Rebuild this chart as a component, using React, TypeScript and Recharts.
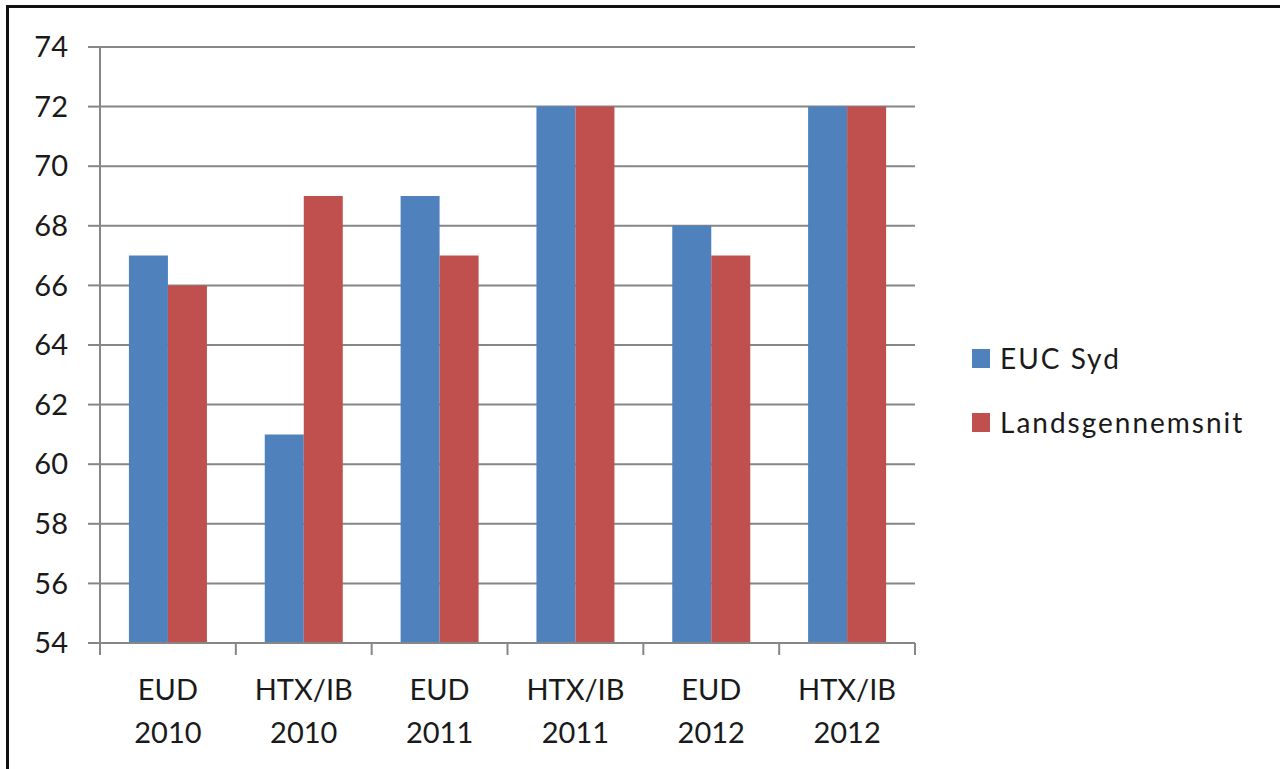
import { BarChart, Bar, XAxis, YAxis, CartesianGrid } from 'recharts';

const categories = ['EUD 2010', 'HTX/IB 2010', 'EUD 2011', 'HTX/IB 2011', 'EUD 2012', 'HTX/IB 2012'];
const eucSyd = [67, 61, 69, 72, 68, 72];
const landsgennemsnit = [66, 69, 67, 72, 67, 72];
const yTicks = [54, 56, 58, 60, 62, 64, 66, 68, 70, 72, 74];

const seriesNames = ['EUC Syd', 'Landsgennemsnit'];
const colors = ['#4F81BD', '#C0504D'];

const data = categories.map((name, i) => ({
  name,
  eucSyd: eucSyd[i],
  lands: landsgennemsnit[i],
}));

const FONT = 'Lato, "Open Sans", sans-serif';
const AXIS = '#868686';
const TEXT = '#1a1a1a';

function CategoryTick(props: any) {
  const { x, y, payload, index, visibleTicksCount } = props;
  const half = payload.offset ?? 68;
  const [top, bottom] = String(payload.value).split(' ');
  return (
    <g>
      <line x1={x - half} x2={x - half} y1={y - 8} y2={y + 4} stroke={AXIS} strokeWidth={2} />
      {index === visibleTicksCount - 1 && (
        <line x1={x + half} x2={x + half} y1={y - 8} y2={y + 4} stroke={AXIS} strokeWidth={2} />
      )}
      <text x={x} y={y + 49} textAnchor="middle" fill={TEXT} fontSize={29} fontFamily={FONT}>
        {top}
      </text>
      <text x={x} y={y + 92} textAnchor="middle" fill={TEXT} fontSize={29} fontFamily={FONT}>
        {bottom}
      </text>
    </g>
  );
}

function LegendBox() {
  return (
    <div
      style={{
        position: 'absolute',
        left: 972,
        top: 326,
        fontFamily: FONT,
        fontSize: 28,
        letterSpacing: 2,
        color: TEXT,
      }}
    >
      {seriesNames.map((n, i) => (
        <div key={n} style={{ display: 'flex', alignItems: 'center', height: 64 }}>
          <span style={{ width: 18, height: 19, background: colors[i], marginRight: 10, display: 'inline-block' }} />
          <span>{n}</span>
        </div>
      ))}
    </div>
  );
}

export default function App() {
  return (
    <div style={{ position: 'fixed', left: 0, top: 0, width: 1280, height: 769, overflow: 'hidden', background: '#fff' }}>
      <div
        style={{
          position: 'absolute',
          left: 6,
          top: 5,
          width: 1400,
          height: 900,
          border: '3px solid #111',
          boxSizing: 'border-box',
        }}
      />
      <div style={{ position: 'absolute', left: 0, top: 0 }}>
        <BarChart
          width={1280}
          height={769}
          data={data}
          margin={{ top: 47, right: 365, bottom: 0, left: 0 }}
          barCategoryGap="21.3%"
          barGap={0}
        >
          <CartesianGrid vertical={false} stroke={AXIS} strokeWidth={2} />
          <XAxis
            dataKey="name"
            height={126}
            axisLine={{ stroke: AXIS, strokeWidth: 2 }}
            tickLine={false}
            tick={<CategoryTick />}
            interval={0}
          />
          <YAxis
            width={100}
            domain={[54, 74]}
            ticks={yTicks}
            interval={0}
            tickSize={12}
            tickMargin={20}
            axisLine={{ stroke: AXIS, strokeWidth: 2 }}
            tickLine={{ stroke: AXIS, strokeWidth: 2 }}
            tick={{ fill: TEXT, fontSize: 29, fontFamily: FONT }}
          />
          <Bar dataKey="eucSyd" name={seriesNames[0]} fill={colors[0]} isAnimationActive={false} />
          <Bar dataKey="lands" name={seriesNames[1]} fill={colors[1]} isAnimationActive={false} />
        </BarChart>
      </div>
      <LegendBox />
    </div>
  );
}
